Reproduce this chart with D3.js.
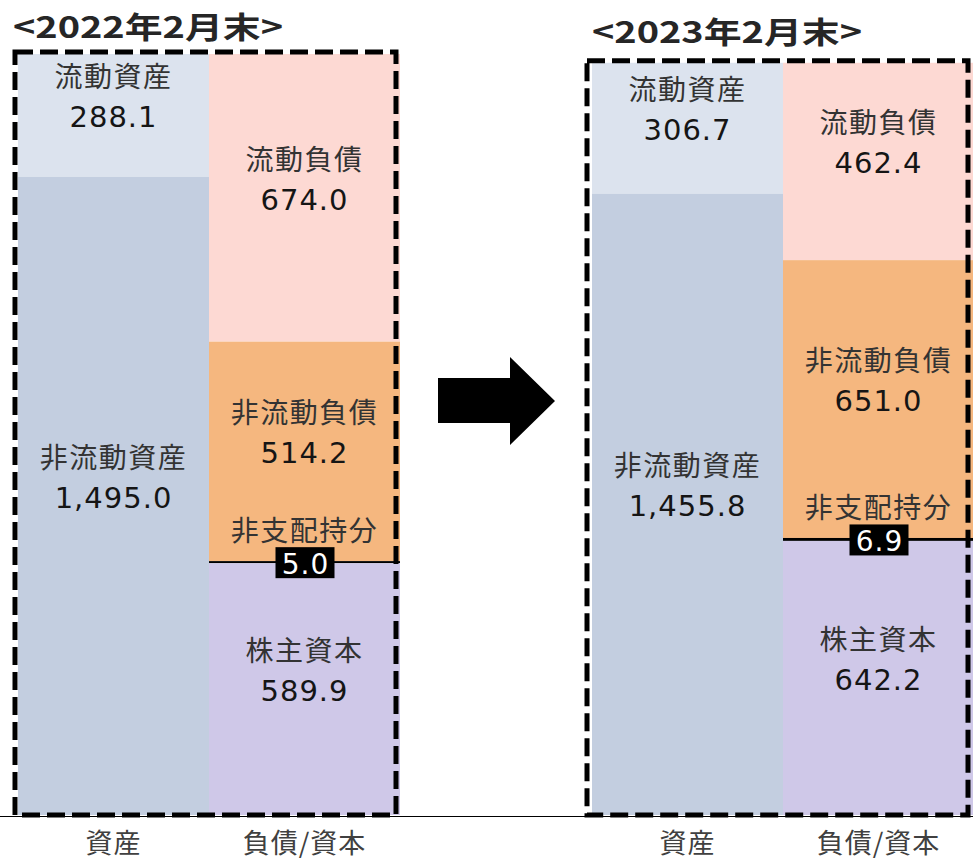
<!DOCTYPE html>
<html>
<head>
<meta charset="utf-8">
<script src="https://cdn.jsdelivr.net/npm/d3@7"></script>
<style>
  body { margin: 0; background: #fff; }
</style>
</head>
<body>
<div id="chart"></div>
<script>
// values
var periods = ["<2022年2月末>", "<2023年2月末>"];
var columns = ["資産", "負債/資本"];
var assetItems = ["流動資産", "非流動資産"];
var assets2022 = [288.1, 1495.0];
var assets2023 = [306.7, 1455.8];
var claimItems = ["流動負債", "非流動負債", "非支配持分", "株主資本"];
var claims2022 = [674.0, 514.2, 5.0, 589.9];
var claims2023 = [462.4, 651.0, 6.9, 642.2];

var colors = {
    "流動資産": "#dce3ee",
    "非流動資産": "#c3cee0",
    "流動負債": "#fdd9d3",
    "非流動負債": "#f5b77f",
    "非支配持分": "#000000",
    "株主資本": "#cfc8e8"
};

var width = 973, height = 860;
var baseY = 815;
var groupX = [[18, 400], [592, 974]];
var titleX = [13, 592], titleY = [38, 43];
var jp = "'Noto Sans CJK JP', 'Noto Sans', sans-serif";
var num = "'DejaVu Sans', sans-serif";

var svg = d3.select("#chart").append("svg")
    .attr("width", width)
    .attr("height", height);

var maxTotal = d3.max([d3.sum(assets2022), d3.sum(assets2023)]);
var y = d3.scaleLinear().domain([0, maxTotal]).range([baseY, 54]);
var fmt = d3.format(",.1f");

var data = [
    { assets: assets2022, claims: claims2022 },
    { assets: assets2023, claims: claims2023 }
];

// stack from the top of the column down
function stackCol(names, values) {
    var total = d3.sum(values), acc = total;
    return names.map(function (n, i) {
        var top = acc;
        acc -= values[i];
        return { name: n, value: values[i], top: top, bottom: acc };
    });
}

data.forEach(function (d, p) {
    var x = d3.scaleBand().domain(columns).range(groupX[p]).padding(0);
    var g = svg.append("g");

    var cols = [
        { col: columns[0], segs: stackCol(assetItems, d.assets) },
        { col: columns[1], segs: stackCol(claimItems, d.claims) }
    ];

    cols.forEach(function (c) {
        var cx = x(c.col) + x.bandwidth() / 2;

        g.selectAll(null)
            .data(c.segs)
            .enter()
            .append("rect")
            .attr("x", x(c.col))
            .attr("y", function (s) { return y(s.top); })
            .attr("width", x.bandwidth())
            .attr("height", function (s) { return y(s.bottom) - y(s.top); })
            .style("fill", function (s) { return colors[s.name]; });

        c.segs.forEach(function (s) {
            var mid = (y(s.top) + y(s.bottom)) / 2;
            if (s.name === "非支配持分") {
                g.append("text")
                    .attr("x", cx).attr("y", mid - 21)
                    .attr("text-anchor", "middle")
                    .style("font-family", jp).style("font-size", "28px")
                    .style("letter-spacing", "1.5px")
                    .style("fill", "#333")
                    .text(s.name);
                g.append("rect")
                    .attr("x", cx - 29).attr("y", mid - 15)
                    .attr("width", 59).attr("height", 31)
                    .style("fill", "#000");
                g.append("text")
                    .attr("x", cx + 1).attr("y", mid + 12)
                    .attr("text-anchor", "middle")
                    .style("font-family", num).style("font-size", "28px")
                    .style("letter-spacing", "1px")
                    .style("fill", "#fff")
                    .text(fmt(s.value));
                return;
            }
            g.append("text")
                .attr("x", cx).attr("y", mid - 28)
                .attr("text-anchor", "middle")
                .style("font-family", jp).style("font-size", "28px")
                .style("letter-spacing", "1.5px")
                .style("fill", "#333")
                .text(s.name);
            g.append("text")
                .attr("x", cx).attr("y", mid + 12)
                .attr("text-anchor", "middle")
                .style("font-family", num).style("font-size", "29px")
                .style("letter-spacing", "1px")
                .style("fill", "#151515")
                .text(fmt(s.value));
        });
    });

    // dashed frame
    var topY = y(d3.max([d3.sum(d.assets), d3.sum(d.claims)]));
    g.append("rect")
        .attr("x", groupX[p][0] - 3 + p * -2)
        .attr("y", topY - 2)
        .attr("width", groupX[p][1] - groupX[p][0] - 1)
        .attr("height", baseY - topY + 2)
        .style("fill", "none")
        .style("stroke", "#000")
        .style("stroke-width", 5)
        .style("stroke-dasharray", "18,7");

    // column labels
    var axis = g.append("g")
        .attr("transform", "translate(0," + baseY + ")")
        .call(d3.axisBottom(x).tickSize(0).tickPadding(19));
    axis.select(".domain").remove();
    axis.selectAll("text")
        .style("font-family", jp).style("font-size", "27px")
        .style("letter-spacing", "1px")
        .style("fill", "#404040");

    g.append("text")
        .attr("x", titleX[p]).attr("y", titleY[p])
        .attr("textLength", 270)
        .attr("lengthAdjust", "spacingAndGlyphs")
        .style("font-family", jp).style("font-size", "30px")
        .style("font-weight", "bold")
        .style("fill", "#262626")
        .text(periods[p]);
});

// baseline
svg.append("line")
    .attr("x1", 0).attr("x2", width)
    .attr("y1", baseY + 1.5).attr("y2", baseY + 1.5)
    .style("stroke", "#000")
    .style("stroke-width", 1.2);

// arrow between periods
svg.append("polygon")
    .attr("points", "438,378 510,378 510,357 555,401 510,445 510,423 438,423")
    .style("fill", "#000");
</script>
</body>
</html>
